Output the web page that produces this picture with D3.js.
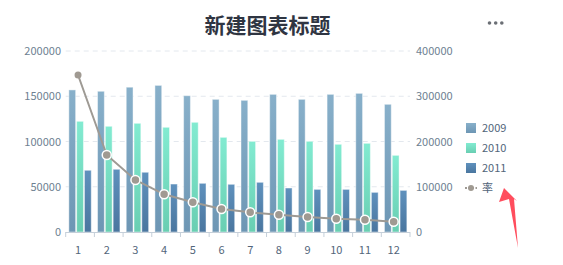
<!DOCTYPE html>
<html>
<head>
<meta charset="utf-8">
<script src="https://cdn.jsdelivr.net/npm/d3@7"></script>
<style>
  body { margin: 0; background: #fff; }
  svg { display: block; font-family: "Noto Sans CJK SC", "Noto Sans", sans-serif; }
</style>
</head>
<body>
<svg id="chart" width="563" height="265"></svg>
<script>
const months = ['1','2','3','4','5','6','7','8','9','10','11','12'];
const v2009 = [157000,155500,160000,162000,150600,146600,145500,152100,146600,152100,153200,141100];
const v2010 = [122300,116800,120100,115700,121200,104600,100200,102400,100200,96900,98000,84700];
const v2011 = [68200,69300,66000,53000,53800,52700,54900,48600,47100,47100,43800,46000];
const rate = [347000,170200,114900,83300,65600,50800,43500,38200,33100,29400,27200,22800];
const leftTicks = [0,50000,100000,150000,200000];
const rightTicks = [0,100000,200000,300000,400000];

const series = [
    {name:'2009', values:v2009, top:'#88b0ca', bottom:'#6d96b4'},
    {name:'2010', values:v2010, top:'#82ebd1', bottom:'#69ceb2'},
    {name:'2011', values:v2011, top:'#5f91bd', bottom:'#4a769f'}
];

const svg = d3.select('#chart');
const plotLeft = 65.7, plotRight = 410, plotTop = 51, plotBottom = 232;

const x = d3.scaleBand().domain(months).range([plotLeft, plotRight]);
const yL = d3.scaleLinear().domain([0,200000]).range([plotBottom, plotTop]);
const yR = d3.scaleLinear().domain([0,400000]).range([plotBottom, plotTop]);

// gradients
const defs = svg.append('defs');
series.forEach((s,i)=>{
    const g = defs.append('linearGradient')
        .attr('id','grad'+i).attr('x1',0).attr('y1',0).attr('x2',0).attr('y2',1);
    g.append('stop').attr('offset','0%').attr('stop-color',s.top);
    g.append('stop').attr('offset','100%').attr('stop-color',s.bottom);
});

// title
svg.append('text')
    .attr('x',267.5).attr('y',33)
    .attr('text-anchor','middle')
    .attr('font-size',21).attr('font-weight','bold')
    .attr('fill','#2f3542')
    .text('新建图表标题');

// menu dots
[489.5,495.7,501.8].forEach(cx=>{
    svg.append('circle').attr('cx',cx).attr('cy',23).attr('r',1.8).attr('fill','#6b6f75');
});

// grid
svg.append('g').selectAll('line')
    .data(leftTicks.filter(d=>d>0))
    .enter().append('line')
    .attr('x1',plotLeft).attr('x2',plotRight)
    .attr('y1',d=>yL(d)).attr('y2',d=>yL(d))
    .attr('stroke','#e3e8ee').attr('stroke-dasharray','5,4');

// left labels
svg.append('g').selectAll('text')
    .data(leftTicks).enter().append('text')
    .attr('x',61).attr('y',d=>yL(d)+4)
    .attr('text-anchor','end')
    .attr('font-size',11).attr('fill','#6e7f91')
    .text(d=>d);

// right labels
svg.append('g').selectAll('text')
    .data(rightTicks).enter().append('text')
    .attr('x',416).attr('y',d=>yR(d)+4)
    .attr('text-anchor','start')
    .attr('font-size',11).attr('fill','#6e7f91')
    .text(d=>d);

// bars
const barW = 6.8, gap = 1;
const groupW = barW*3 + gap*2;
series.forEach((s,i)=>{
    svg.append('g').selectAll('rect')
        .data(s.values).enter().append('rect')
        .attr('x',(d,j)=>x(months[j]) + x.bandwidth()/2 - groupW/2 + i*(barW+gap))
        .attr('y',d=>yL(d))
        .attr('width',barW)
        .attr('height',d=>plotBottom - yL(d))
        .attr('fill','url(#grad'+i+')')
        .attr('stroke','rgba(255,255,255,0.45)')
        .attr('stroke-width',1);
});

// x axis
svg.append('line')
    .attr('x1',plotLeft).attr('x2',plotRight).attr('y1',plotBottom+0.5).attr('y2',plotBottom+0.5)
    .attr('stroke','#c5cfd9');
svg.append('g').selectAll('line')
    .data(months.concat(['end'])).enter().append('line')
    .attr('x1',(d,j)=>plotLeft + j*x.bandwidth()).attr('x2',(d,j)=>plotLeft + j*x.bandwidth())
    .attr('y1',plotBottom).attr('y2',plotBottom+5)
    .attr('stroke','#c5cfd9');
svg.append('g').selectAll('text')
    .data(months).enter().append('text')
    .attr('x',d=>x(d)+x.bandwidth()/2 - 2)
    .attr('y',254)
    .attr('text-anchor','middle')
    .attr('font-size',11).attr('fill','#52657a')
    .text(d=>d);

// line
const line = d3.line()
    .x((d,j)=>x(months[j]) + x.bandwidth()/2 - 2)
    .y(d=>yR(d));
svg.append('path')
    .datum(rate)
    .attr('d',line)
    .attr('fill','none')
    .attr('stroke','#9e9a94')
    .attr('stroke-width',2);
svg.append('g').selectAll('circle')
    .data(rate).enter().append('circle')
    .attr('cx',(d,j)=>x(months[j]) + x.bandwidth()/2 - 2)
    .attr('cy',d=>yR(d))
    .attr('r',(d,j)=>j==0 ? 3.5 : 4.5)
    .attr('fill','#a09a92')
    .attr('stroke','#fff')
    .attr('stroke-width',(d,j)=>j==0 ? 0 : 1.5);

// legend
const legendItems = series.map(s=>s.name).concat(['率']);
const lg = svg.append('g');
legendItems.forEach((name,i)=>{
    const ly = 128 + i*20;
    if(i<3){
        lg.append('rect')
            .attr('x',466).attr('y',ly-5).attr('width',10).attr('height',10)
            .attr('fill','url(#grad'+i+')');
    } else {
        lg.append('line')
            .attr('x1',465).attr('x2',477).attr('y1',ly).attr('y2',ly)
            .attr('stroke','#9e9a94').attr('stroke-width',2).attr('stroke-dasharray','2,1.5');
        lg.append('circle').attr('cx',471).attr('cy',ly).attr('r',3).attr('fill','#a09a92');
    }
    lg.append('text')
        .attr('x',482).attr('y',ly+4)
        .attr('font-size',11).attr('fill','#52657a')
        .text(name);
});

// red arrow annotation
svg.append('path')
    .attr('d','M504,188 L499,202 L509,199 L518,248 L514,199 L517,201 Z')
    .attr('fill','#ff4d5d');
</script>
</body>
</html>
